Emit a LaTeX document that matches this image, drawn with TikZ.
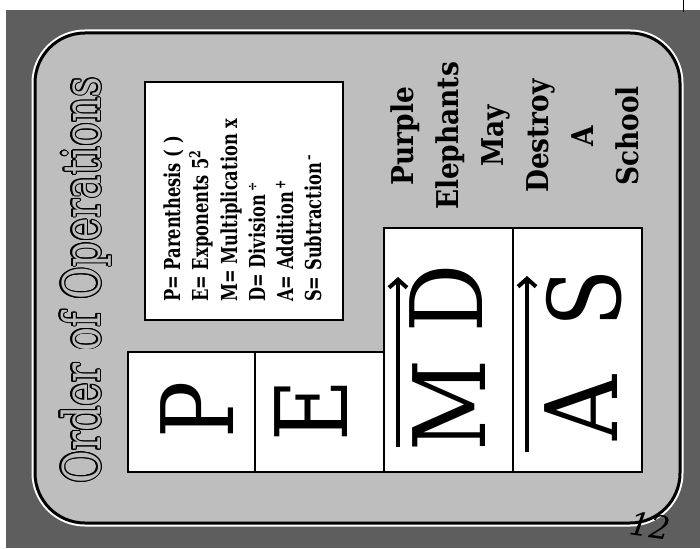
\documentclass[tikz,border=0pt]{standalone}
\usepackage{fontspec}
\setmainfont{DejaVu Serif}
\usepackage{graphicx}
\usepackage{contour}
\usetikzlibrary{arrows.meta}
\definecolor{outerbg}{HTML}{5E5E5E}
\definecolor{innerbg}{HTML}{BEBEBE}
\contourlength{1.2pt}
\newcommand{\keysym}[1]{\raisebox{0.35em}{\fontsize{15}{15}\selectfont #1}}
\begin{document}
\begin{tikzpicture}[x=1pt,y=-1pt,
  cellbox/.style={draw=black,line width=2pt,fill=white},
  bigletter/.style={rotate=90,anchor=base,inner sep=0pt,font=\fontsize{100}{100}\selectfont},
  keyline/.style={rotate=90,anchor=base west,inner sep=0pt,font=\fontsize{22}{22}\selectfont\bfseries},
  mnem/.style={rotate=90,anchor=base,inner sep=0pt,font=\fontsize{30}{30}\selectfont\bfseries},
  ordarrow/.style={line width=4pt,-{Straight Barb[length=8pt,width=18pt]}}
]
\useasboundingbox (0,0) rectangle (700,548);
\fill[white] (0,0) rectangle (700,548);
\fill[outerbg] (6,10) rectangle (700,548);
% rounded panel
\draw[white,line width=7pt,rounded corners=50pt] (35,33) rectangle (680,523);
\draw[black,line width=3pt,fill=innerbg,rounded corners=50pt] (35,33) rectangle (680,523);
% key box
\draw[line width=2.5pt,fill=white] (145,82) rectangle (343,320);
% cells
\draw[cellbox] (128,352) rectangle (255,472);
\draw[cellbox] (255,352) rectangle (384,472);
\draw[cellbox] (384,228) rectangle (513,472);
\draw[cellbox] (513,228) rectangle (642,472);
% title
\node[rotate=90,anchor=base,inner sep=0pt,font=\fontsize{52}{52}\selectfont] (title) at (100,280)
  {\scalebox{0.765}[1]{\contour{black}{\textcolor{innerbg}{Order of Operations}}}};
% key lines
\node[keyline] (kp) at (180,302) {\scalebox{0.74}[1]{P= Parenthesis ( )}};
\node[keyline] (ke) at (208,302) {\scalebox{0.74}[1]{E= Exponents 5\keysym{2}}};
\node[keyline] (km) at (237,302) {\scalebox{0.74}[1]{M= Multiplication x}};
\node[keyline] (kd) at (265,302) {\scalebox{0.74}[1]{D= Division\,\keysym{÷}}};
\node[keyline] (ka) at (293,302) {\scalebox{0.74}[1]{A= Addition\,\keysym{+}}};
\node[keyline] (ks) at (321,302) {\scalebox{0.74}[1]{S= Subtraction\,\keysym{–}}};
% mnemonic
\node[mnem] (m1) at (413,136) {\scalebox{0.88}[1]{Purple}};
\node[mnem] (m2) at (458,136) {\scalebox{0.88}[1]{Elephants}};
\node[mnem] (m3) at (503,136) {\scalebox{0.88}[1]{May}};
\node[mnem] (m4) at (548,136) {\scalebox{0.88}[1]{Destroy}};
\node[mnem] (m5) at (593,136) {\scalebox{0.88}[1]{A}};
\node[mnem] (m6) at (638,136) {\scalebox{0.88}[1]{School}};
% big letters
\node[bigletter] (lp) at (233,410) {\scalebox{0.85}[1]{P}};
\node[bigletter] (le) at (347,410) {\scalebox{0.85}[1]{E}};
\node[bigletter] (lm) at (485,405) {\scalebox{0.9}[1]{M}};
\node[bigletter] (ld) at (482,298) {\scalebox{0.85}[1]{D}};
\node[bigletter] (la) at (617,408) {\scalebox{0.9}[1]{A}};
\node[bigletter] (ls) at (620,298) {\scalebox{0.85}[1]{S}};
% arrows
\coordinate (mdlow) at (398,447);
\coordinate (mdhigh) at (398,277);
\coordinate (aslow) at (527,452);
\coordinate (ashigh) at (527,276);
\draw[ordarrow] (mdlow) -- (mdhigh);
\draw[ordarrow] (aslow) -- (ashigh);
% page mark
\node[font=\fontsize{32}{32}\selectfont\itshape,rotate=-8,inner sep=0pt] (pg) at (650,526) {12};
\coordinate (ticktop) at (683,0);
\coordinate (tickbot) at (683,12);
\draw[line width=1pt] (ticktop) -- (tickbot);
\end{tikzpicture}
\end{document}
